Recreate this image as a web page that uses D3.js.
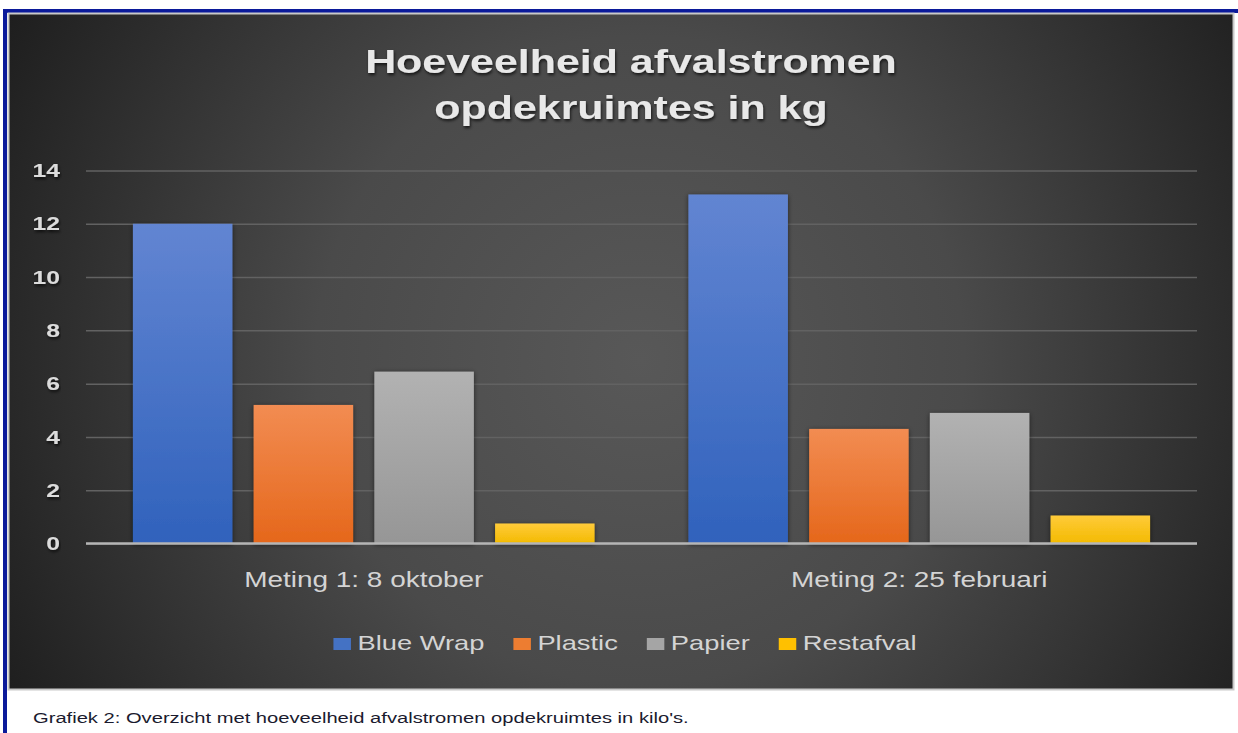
<!DOCTYPE html>
<html><head><meta charset="utf-8">
<script src="https://cdn.jsdelivr.net/npm/d3@7"></script>
<style>body{margin:0;background:#fff;} svg{display:block;}</style>
</head><body><svg id="c" width="1238" height="733"></svg>
<script>
// ---- data ----
const categories = ["Meting 1: 8 oktober", "Meting 2: 25 februari"];
const series = ["Blue Wrap", "Plastic", "Papier", "Restafval"];
const blueWrap = [12.0, 13.1];
const plastic = [5.2, 4.3];
const papier = [6.45, 4.9];
const restafval = [0.75, 1.05];
const yTicks = [0, 2, 4, 6, 8, 10, 12, 14];
const titleLines = ["Hoeveelheid afvalstromen", "opdekruimtes in kg"];
const caption = "Grafiek 2: Overzicht met hoeveelheid afvalstromen opdekruimtes in kilo's.";

// ---- styles ----
const seriesTop = ["#6285d2", "#f28c52", "#b2b2b2", "#ffcb3a"];
const seriesBot = ["#3062bc", "#e5671b", "#969696", "#f3ba00"];
const legendCol = ["#4472c4", "#ed7d31", "#a5a5a5", "#ffc000"];
const SX = 1.3; // horizontal stretch of the picture
const FONT = "'Liberation Sans', Arial, sans-serif";

const table = categories.map((c, i) => ({
  cat: c, values: [blueWrap[i], plastic[i], papier[i], restafval[i]]
}));

const svg = d3.select("#c");
const defs = svg.append("defs");

const bg = defs.append("radialGradient").attr("id", "bg")
  .attr("gradientUnits", "userSpaceOnUse").attr("cx", 640).attr("cy", 360).attr("r", 720);
bg.append("stop").attr("offset", 0).attr("stop-color", "#585858");
bg.append("stop").attr("offset", 0.45).attr("stop-color", "#4a4a4a");
bg.append("stop").attr("offset", 1).attr("stop-color", "#1e1e1e");

series.forEach((s, i) => {
  const g = defs.append("linearGradient").attr("id", "g" + i)
    .attr("x1", 0).attr("y1", 0).attr("x2", 0).attr("y2", 1);
  g.append("stop").attr("offset", 0).attr("stop-color", seriesTop[i]);
  g.append("stop").attr("offset", 1).attr("stop-color", seriesBot[i]);
});
const sh = defs.append("filter").attr("id", "sh").attr("x", "-20%").attr("y", "-20%").attr("width", "140%").attr("height", "140%");
sh.append("feDropShadow").attr("dx", 0).attr("dy", 1).attr("stdDeviation", 2.5)
  .attr("flood-color", "#000").attr("flood-opacity", 0.55);
const tsh = defs.append("filter").attr("id", "tsh").attr("x", "-5%").attr("y", "-20%").attr("width", "110%").attr("height", "160%");
tsh.append("feDropShadow").attr("dx", 1).attr("dy", 2).attr("stdDeviation", 1.5)
  .attr("flood-color", "#000").attr("flood-opacity", 0.7);

// frame
svg.append("rect").attr("x", 3).attr("y", 9).attr("width", 1235).attr("height", 4).attr("fill", "#0b1a9a");
svg.append("rect").attr("x", 3).attr("y", 9).attr("width", 4).attr("height", 724).attr("fill", "#0b1a9a");
svg.append("rect").attr("x", 8.5).attr("y", 13.5).attr("width", 1225).attr("height", 676)
  .attr("fill", "url(#bg)").attr("stroke", "#c9c9c9").attr("stroke-width", 2);

function stretch(sel, f) {
  sel.each(function () {
    const w = this.getComputedTextLength();
    d3.select(this).attr("textLength", w * f).attr("lengthAdjust", "spacingAndGlyphs");
  });
}

// scales
const x0 = d3.scaleBand().domain(categories).range([86, 1197]).paddingInner(0.169).paddingOuter(0.0845);
const x1 = d3.scaleBand().domain(series).range([0, x0.bandwidth()]).paddingInner(0.176);
const y = d3.scaleLinear().domain([0, 14]).range([543.5, 170.5]);

// y axis + gridlines
const yAxis = svg.append("g").attr("transform", "translate(86,0)")
  .call(d3.axisLeft(y).tickValues(yTicks).tickSize(-(1197 - 86)).tickPadding(26).tickFormat(d3.format("d")));
yAxis.select(".domain").remove();
yAxis.selectAll(".tick line").attr("stroke", "#626262").attr("stroke-width", 1.5);
yAxis.selectAll(".tick text").attr("fill", "#dcdcdc").attr("font-family", FONT)
  .attr("font-weight", "bold").attr("font-size", 19).attr("filter", "url(#tsh)").call(stretch, SX);

// bars
svg.append("g").selectAll("g").data(table).join("g")
  .attr("transform", d => `translate(${x0(d.cat)},0)`)
  .selectAll("rect").data(d => d.values.map((v, i) => ({ s: series[i], i, v })))
  .join("rect")
  .attr("x", d => x1(d.s)).attr("width", x1.bandwidth())
  .attr("y", d => y(d.v)).attr("height", d => y(0) - y(d.v))
  .attr("fill", d => `url(#g${d.i})`).attr("filter", "url(#sh)");

// zero line
svg.append("line").attr("x1", 86).attr("x2", 1197).attr("y1", y(0)).attr("y2", y(0))
  .attr("stroke", "#b5b5b5").attr("stroke-width", 2.5);

// x axis labels
const xAxis = svg.append("g").attr("transform", `translate(0,${y(0)})`)
  .call(d3.axisBottom(x0).tickSize(0).tickPadding(28));
xAxis.select(".domain").remove();
xAxis.selectAll(".tick text").attr("fill", "#d4d4d4").attr("font-family", FONT)
  .attr("font-size", 21.5).call(stretch, SX);

// title
svg.append("g").selectAll("text").data(titleLines).join("text")
  .attr("x", 631).attr("y", (d, i) => 73 + i * 46)
  .attr("text-anchor", "middle").attr("fill", "#e8e8e8")
  .attr("font-family", FONT).attr("font-weight", "bold").attr("font-size", 33)
  .attr("filter", "url(#tsh)")
  .text(d => d).call(stretch, SX);

// legend
const leg = svg.append("g");
const items = leg.selectAll("g").data(series).join("g");
items.append("rect").attr("width", 17.5).attr("height", 12).attr("y", -12 + 2)
  .attr("fill", (d, i) => legendCol[i]);
items.append("text").attr("x", 24).attr("y", 2).attr("fill", "#d4d4d4")
  .attr("font-family", FONT).attr("font-size", 21).text(d => d).call(stretch, SX);
let cx = 0;
const widths = [];
items.each(function () { widths.push(this.getBBox().width); });
items.attr("transform", (d, i) => { const t = `translate(${cx},0)`; cx += widths[i] + 29; return t; });
const totalW = cx - 29;
leg.attr("transform", `translate(${625 - totalW / 2},648)`);

// caption
svg.append("text").attr("x", 33).attr("y", 723).attr("fill", "#1a1a2e")
  .attr("font-family", FONT).attr("font-size", 15.5).text(caption).call(stretch, 1.3);
</script>
</body></html>
